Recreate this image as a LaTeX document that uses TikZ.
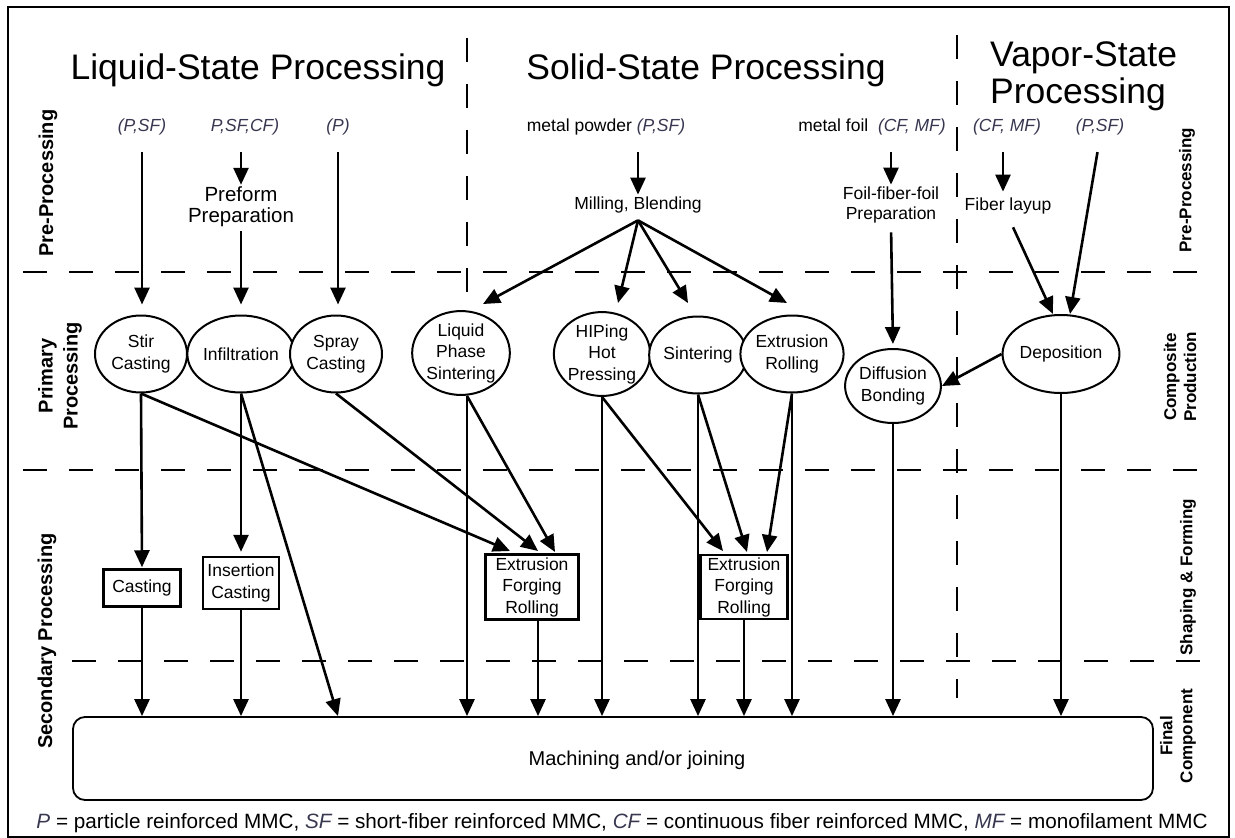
\documentclass[tikz,border=0pt]{standalone}
\usepackage{fontspec}
\setmainfont{Liberation Sans}
\usetikzlibrary{arrows.meta,shapes.geometric}
\definecolor{itc}{RGB}{55,55,80}
\newcommand{\mmcit}[1]{\textcolor{itc}{\itshape #1}}
\begin{document}
\begin{tikzpicture}[x=1pt,y=-1pt,
  title/.style={font=\fontsize{35.5}{37}\selectfont, inner sep=0pt},
  lbl/.style={font=\fontsize{17.5}{20}\selectfont, inner sep=2pt, align=center},
  ital/.style={font=\fontsize{17.5}{20}\selectfont\itshape, text=itc, inner sep=2pt},
  proc/.style={ellipse, draw, fill=white, line width=2pt, minimum width=92pt, minimum height=77pt, inner sep=0pt, align=center, font=\fontsize{17.5}{21.5}\selectfont},
  sbox/.style={rectangle, draw, fill=white, line width=2.5pt, inner sep=0pt, align=center, font=\fontsize{17.5}{21.5}\selectfont},
  arr/.style={line width=2.6pt, -{Triangle[length=17pt,width=15pt]}},
  sepline/.style={line width=2.2pt, dash pattern=on 24pt off 22pt},
  sidel/.style={rotate=90, font=\bfseries\fontsize{20}{25}\selectfont, align=center, inner sep=0pt},
  sider/.style={rotate=90, font=\bfseries\fontsize{17}{20}\selectfont, align=center, inner sep=0pt}
]
\useasboundingbox (0,0) rectangle (1235,838);
\draw[line width=2pt] (8,7) rectangle (1229,837);

% separator lines
\coordinate (v1a) at (467,38);
\coordinate (v1b) at (467,720);
\coordinate (v2a) at (957,35);
\coordinate (v2b) at (957,698);
\draw[sepline] (23,272) -- (1218,272);
\draw[sepline] (23,470) -- (1218,470);
\draw[sepline] (72,661) -- (1218,661);
\draw[sepline] (v1a) -- (v1b);
\draw[sepline] (v2a) -- (v2b);

% titles
\node[title, anchor=base] (tliq) at (258,79) {Liquid-State Processing};
\node[title, anchor=base] (tsol) at (706,79) {Solid-State Processing};
\node[title, anchor=north west, align=left] (tvap) at (990,42) {Vapor-State\\Processing};

% side labels
\node[sidel] (lpre) at (48,183) {Pre-Processing};
\node[sidel] (lprim) at (60,376) {Primary\\Processing};
\node[sidel] (lsec) at (47,641) {Secondary Processing};
\node[sider] (rpre) at (1187,190) {Pre-Processing};
\node[sider] (rcomp) at (1180,377) {Composite\\Production};
\node[sider] (rshape) at (1188,577) {Shaping \& Forming};
\node[sider] (rfinal) at (1178,736) {Final\\Component};

% inputs
\node[ital] (psf1) at (142,127) {(P,SF)};
\node[ital] (psf2) at (245,127) {P,SF,CF)};
\node[ital] (pp) at (338,127) {(P)};
\node[lbl] (mp) at (606,127) {metal powder \mmcit{(P,SF)}};
\node[lbl] (mf) at (872,127) {metal foil \ \mmcit{(CF, MF)}};
\node[ital] (cfmf) at (1007,127) {(CF, MF)};
\node[ital] (psf3) at (1100,127) {(P,SF)};

% pre-processing
\node[lbl, font=\fontsize{20.5}{21}\selectfont] (pref) at (241,207) {Preform\\Preparation};
\node[lbl] (mill) at (638,205) {Milling, Blending};
\node[lbl] (ffp) at (891,205) {Foil-fiber-foil\\Preparation};
\node[lbl] (fly) at (1008,206) {Fiber layup};

% primary processing
\node[proc] (stir) at (141,354) {Stir\\Casting};
\node[proc] (infil) at (241,354) {Infiltration};
\node[proc] (spray) at (336,354) {Spray\\Casting};
\node[proc] (lps) at (461,353) {Liquid\\Phase\\Sintering};
\node[proc] (hip) at (602,354) {HIPing\\Hot\\Pressing};
\node[proc] (sint) at (698,355) {Sintering};
\node[proc] (extr) at (792,354) {Extrusion\\Rolling};
\node[proc, minimum width=91pt, minimum height=74pt] (diff) at (893,386) {Diffusion\\Bonding};
\node[proc, minimum width=94pt, minimum height=78pt] (dep) at (1061,354) {Deposition};

% secondary processing
\node[sbox, minimum width=77pt, minimum height=37pt] (cast) at (142,588) {Casting};
\node[sbox, minimum width=76pt, minimum height=52pt] (ins) at (241,583) {Insertion\\Casting};
\node[sbox, minimum width=93pt, minimum height=65pt] (efr1) at (532,587) {Extrusion\\Forging\\Rolling};
\node[sbox, minimum width=87pt, minimum height=64pt] (efr2) at (744,587) {Extrusion\\Forging\\Rolling};

% final
\node[draw, fill=white, line width=1.8pt, rounded corners=12pt, minimum width=1080pt, minimum height=83pt] (mach) at (613,758.5) {};
\node[font=\fontsize{20}{24}\selectfont] (machtxt) at (637,760) {Machining and/or joining};

% footer
\node[font=\fontsize{20.7}{24}\selectfont, anchor=base, inner sep=0pt] (foot) at (622,828)
 {\mmcit{P} = particle reinforced MMC, \mmcit{SF} = short-fiber reinforced MMC, \mmcit{CF} = continuous fiber reinforced MMC, \mmcit{MF} = monofilament MMC};

% helper coordinates
\coordinate (mapex) at ([yshift=-5pt]mill.south);
\coordinate (tlps) at (483,304);
\coordinate (thip) at (618,303);
\coordinate (tsint) at (688,303);
\coordinate (textr) at (787,303);
\coordinate (tdep1) at (1053,314);
\coordinate (tdep2) at (1070,314);
\coordinate (te1a) at (510,551);
\coordinate (te1b) at (538,551);
\coordinate (te1c) at (555,552);
\coordinate (te2a) at (723,551);
\coordinate (te2b) at (747,552);
\coordinate (te2c) at (767,552);
\path ([xshift=6pt]efr1.south) coordinate (e1b);
\path ([xshift=-4pt]cfmf.south) coordinate (cfs);

% pre-processing arrows
\draw[arr, shorten <=15pt, shorten >=10pt] (psf1.south) -- (psf1.south |- stir.north);
\draw[arr, shorten <=15pt] (pref.north |- psf2.south) -- (pref.north);
\draw[arr, shorten <=2pt, shorten >=10pt] (pref.south) -- (pref.south |- infil.north);
\draw[arr, shorten <=15pt, shorten >=10pt] (pp.south) -- (pp.south |- spray.north);
\draw[arr, shorten <=15pt] (mill.north |- mp.south) -- (mill.north);
\draw[arr] (mapex) -- (tlps);
\draw[arr] (mapex) -- (thip);
\draw[arr] (mapex) -- (tsint);
\draw[arr] (mapex) -- (textr);
\draw[arr, shorten <=15pt] (ffp.north |- mf.south) -- (ffp.north);
\draw[arr, shorten <=7pt, shorten >=4pt] (ffp.south) -- (diff.north);
\draw[arr, shorten <=15pt, shorten >=4pt] (cfs) -- (cfs |- fly.north);
\draw[arr, shorten <=12pt] (fly.south) -- (tdep1);
\draw[arr, shorten <=15pt] (psf3.south) -- (tdep2);
\draw[arr] (dep.west) -- (diff.east);

% primary to secondary / final
\draw[arr, shorten >=1pt] (stir.south) -- (cast.north);
\draw[arr] (cast.south) -- (cast.south |- mach.north);
\draw[arr, shorten >=4pt] (infil.south) -- (ins.north);
\draw[arr] (ins.south) -- (ins.south |- mach.north);
\draw[arr] (infil.south) -- (pp |- mach.north);
\draw[arr] (stir.south) -- (te1a);
\draw[arr] (spray.south) -- (te1b);
\draw[arr] (lps.south -| v1a) -- (te1c);
\draw[arr] (lps.south -| v1a) -- (v1a |- mach.north);
\draw[arr] (e1b) -- (e1b |- mach.north);
\draw[arr] (hip.south) -- (hip.south |- mach.north);
\draw[arr] (hip.south) -- (te2a);
\draw[arr] (sint.south) -- (sint.south |- mach.north);
\draw[arr] (sint.south) -- (te2b);
\draw[arr] (extr.south) -- (extr.south |- mach.north);
\draw[arr] (extr.south) -- (te2c);
\draw[arr] (efr2.south) -- (efr2.south |- mach.north);
\draw[arr] (diff.south) -- (diff.south |- mach.north);
\draw[arr] (dep.south) -- (dep.south |- mach.north);
\end{tikzpicture}
\end{document}
